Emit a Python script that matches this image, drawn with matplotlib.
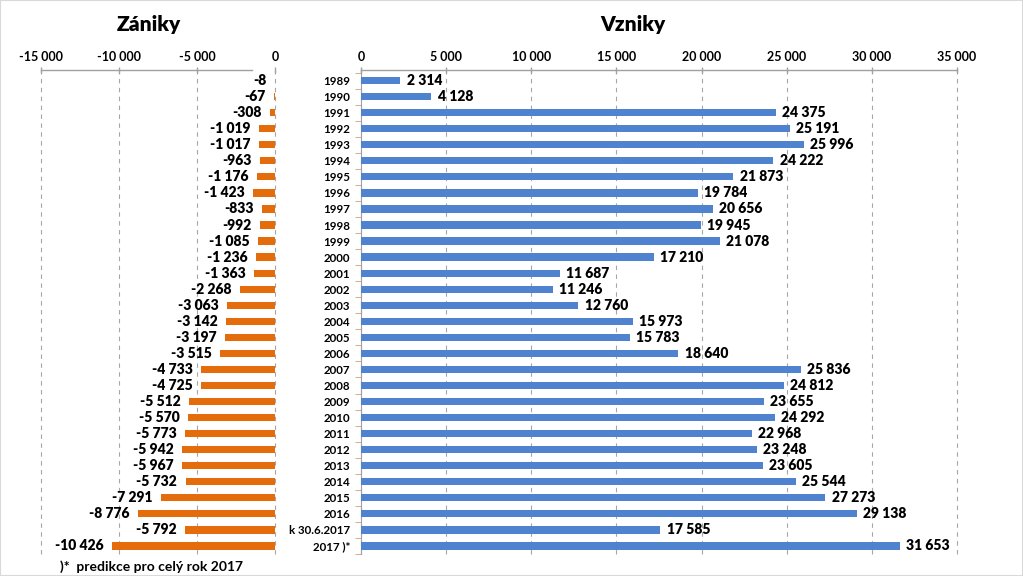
import matplotlib
matplotlib.use("Agg")
import matplotlib.pyplot as plt
from matplotlib.ticker import FuncFormatter, FixedLocator
from matplotlib.patches import Rectangle

categories = [str(y) for y in range(1989, 2017)] + ["k 30.6.2017", "2017 )*"]
zaniky = [-8, -67, -308, -1019, -1017, -963, -1176, -1423, -833, -992, -1085, -1236,
          -1363, -2268, -3063, -3142, -3197, -3515, -4733, -4725, -5512, -5570, -5773,
          -5942, -5967, -5732, -7291, -8776, -5792, -10426]
vzniky = [2314, 4128, 24375, 25191, 25996, 24222, 21873, 19784, 20656, 19945, 21078,
          17210, 11687, 11246, 12760, 15973, 15783, 18640, 25836, 24812, 23655, 24292,
          22968, 23248, 23605, 25544, 27273, 29138, 17585, 31653]
left_ticks = [-15000, -10000, -5000, 0]
right_ticks = [0, 5000, 10000, 15000, 20000, 25000, 30000, 35000]

plt.rcParams['font.family'] = ['Lato', 'DejaVu Sans']

def fmt(v):
    s = f"{abs(int(v)):,}".replace(",", " ")
    return ("-" if v < 0 else "") + s

W, H = 1023, 576
fig = plt.figure(figsize=(W / 100, H / 100), dpi=100)
fig.patches.append(Rectangle((0, 0), 1, 1, transform=fig.transFigure, fill=False,
                             edgecolor="#D9D9D9", lw=1.5))

top, bottom = 69.5, 554
ax1 = fig.add_axes([41 / W, (H - bottom) / H, 234 / W, (bottom - top) / H])
ax2 = fig.add_axes([361 / W, (H - bottom) / H, 596 / W, (bottom - top) / H])

ypos = list(range(len(categories)))
orange = "#E46C0A"
blue = "#4F83CF"
grid_c = "#A6A6A6"
axis_c = "#A0A0A0"

ax1.barh(ypos, zaniky, height=0.45, color=orange, zorder=3)
ax2.barh(ypos, vzniky, height=0.45, color=blue, zorder=3)

for ax, ticks in ((ax1, left_ticks), (ax2, right_ticks)):
    ax.set_ylim(len(categories) - 0.5, -0.69)
    ax.set_xlim(ticks[0], ticks[-1])
    ax.xaxis.tick_top()
    ax.xaxis.set_major_locator(FixedLocator(ticks))
    ax.xaxis.set_major_formatter(FuncFormatter(lambda v, p: fmt(v)))
    ax.tick_params(axis='x', direction='inout', length=5, color=axis_c, width=1,
                   labelsize=9, pad=2)
    for lab in ax.get_xticklabels():
        lab.set_fontweight('bold')
    for s in ('right', 'bottom', 'left'):
        ax.spines[s].set_visible(False)
    ax.spines['top'].set_color(axis_c)
    ax.spines['top'].set_linewidth(1)
    for t in ticks:
        ax.axvline(t, color=grid_c, lw=0.8, ls=(0, (4, 4)), zorder=1, clip_on=False)
    ax.set_facecolor('none')

ax1.spines['top'].set_bounds(-15000, -1450)
ax1.set_yticks([])
ax1.tick_params(axis='y', length=0)

ax2.spines['left'].set_visible(True)
ax2.spines['left'].set_color(axis_c)
ax2.set_yticks(ypos)
ax2.set_yticklabels(categories, fontsize=8.3, fontweight='bold')
ax2.tick_params(axis='y', which='major', length=0, pad=8)
ax2.set_yticks([i - 0.5 for i in range(len(categories) + 1)], minor=True)
ax2.tick_params(axis='y', which='minor', length=4, color="#C9A27E", direction='out')

for y, v in zip(ypos, zaniky):
    ax1.annotate(fmt(v), (v, y), xytext=(-6, 0), textcoords='offset points',
                 ha='right', va='center', fontsize=10, fontweight='heavy')
for y, v in zip(ypos, vzniky):
    ax2.annotate(fmt(v), (v, y), xytext=(4.5, 0), textcoords='offset points',
                 ha='left', va='center', fontsize=10, fontweight='heavy')

fig.text(149 / W, 1 - 25 / H, "Zániky", ha='center', va='center', fontsize=15,
         fontweight='heavy')
fig.text(633 / W, 1 - 25 / H, "Vzniky", ha='center', va='center', fontsize=15,
         fontweight='heavy')
fig.text(60 / W, 1 - 567 / H, ")*  predikce pro celý rok 2017", ha='left', va='center',
         fontsize=10, fontweight='bold')

fig.savefig("out.png", dpi=100)
